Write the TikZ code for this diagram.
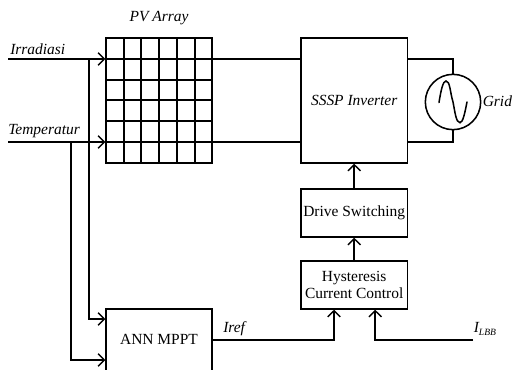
\documentclass[tikz,border=0pt]{standalone}
\usepackage{fontspec}
\setmainfont{Liberation Serif}
\usetikzlibrary{arrows.meta}
\tikzset{
  lnk/.style={line width=1.15pt,line join=miter},
  arr/.style={lnk,-{Straight Barb[length=4.6pt,width=9.5pt,line width=1.05pt]}},
  blockbox/.style={draw,line width=1.15pt,inner sep=0pt,align=center,font=\fontsize{11.6pt}{14pt}\selectfont},
  lab/.style={inner sep=0pt,font=\fontsize{11.6pt}{14pt}\selectfont\itshape},
}
\begin{document}
\begin{tikzpicture}[x=0.75pt,y=-0.75pt]
\useasboundingbox (0,0) rectangle (513,370);
\clip (0,0) rectangle (513,370);
% blocks
\node[blockbox,minimum width=79.5pt,minimum height=93.75pt] (pv) at (159,100.5) {};
\foreach \px in {124,141,159,177,195}{\draw[lnk,line width=1.1pt] (pv.north -| {\px,0}) -- (pv.south -| {\px,0});}
\foreach \py in {59,80,100,121,142}{\draw[lnk,line width=1.1pt] (pv.west |- {0,\py}) -- (pv.east |- {0,\py});}
\node[blockbox,minimum width=80pt,minimum height=93.75pt] (inv) at (354.2,100.5) {\itshape SSSP Inverter};
\node[blockbox,minimum width=80pt,minimum height=36pt] (drv) at (354.2,213) {Drive Switching};
\node[blockbox,minimum width=80pt,minimum height=36pt] (hcc) at (354.2,285) {Hysteresis\\[-0.6pt]Current Control};
\node[blockbox,minimum width=79.5pt,minimum height=56pt,anchor=north] (ann) at (159,308) {};
\node[inner sep=0pt,font=\fontsize{11.6pt}{14pt}\selectfont] (anntxt) at (159,339) {ANN MPPT};
\node[draw,circle,line width=1.15pt,minimum size=41.5pt,inner sep=0pt] (grid) at (453,102) {};
\draw[line width=1.15pt,line cap=round] (439,102.5) .. controls (441,90) and (443,81) .. (446,81)
  .. controls (450,81) and (450,92) .. (453,102)
  .. controls (455,112) and (456,122.7) .. (460,122.7)
  .. controls (463,122.7) and (465,112) .. (467,102);
% labels
\node[lab] (lpv) at (159,18) {PV Array};
\node[lab,anchor=west] (lirr) at (10,49) {Irradiasi};
\node[lab,anchor=west] (ltem) at (8,131) {Temperatur};
\node[lab,anchor=west] (lgrid) at (482.5,101) {Grid};
\node[lab,anchor=west] (liref) at (223,329) {Iref};
\node[lab,anchor=west] (lilbb) at (473.5,329) {I\raisebox{-1.6pt}{\fontsize{7.2pt}{8pt}\selectfont LBB}};
% free ends
\coordinate (irr) at (8,59);
\coordinate (tem) at (8,142);
\coordinate (j1) at (89,59);
\coordinate (j2) at (71,142);
\coordinate (ilbb) at (473,340);
% connectors
\draw[arr] (irr) -- (irr -| pv.west);
\draw[arr] (tem) -- (tem -| pv.west);
\draw[lnk] (pv.east |- irr) -- (inv.west |- irr);
\draw[lnk] (pv.east |- tem) -- (inv.west |- tem);
\draw[arr] (j1) |- (ann.west |- {0,319});
\draw[arr] (j2) |- (ann.west |- {0,360});
\draw[lnk] (inv.east |- irr) -| (grid.north);
\draw[lnk] (inv.east |- tem) -| (grid.south);
\draw[arr] (drv.north) -- (inv.south);
\draw[arr] (hcc.north) -- (drv.south);
\draw[arr] (ann.east |- ilbb) -| ({334,0} |- hcc.south);
\draw[arr] (ilbb) -| ({375.2,0} |- hcc.south);
\end{tikzpicture}
\end{document}
